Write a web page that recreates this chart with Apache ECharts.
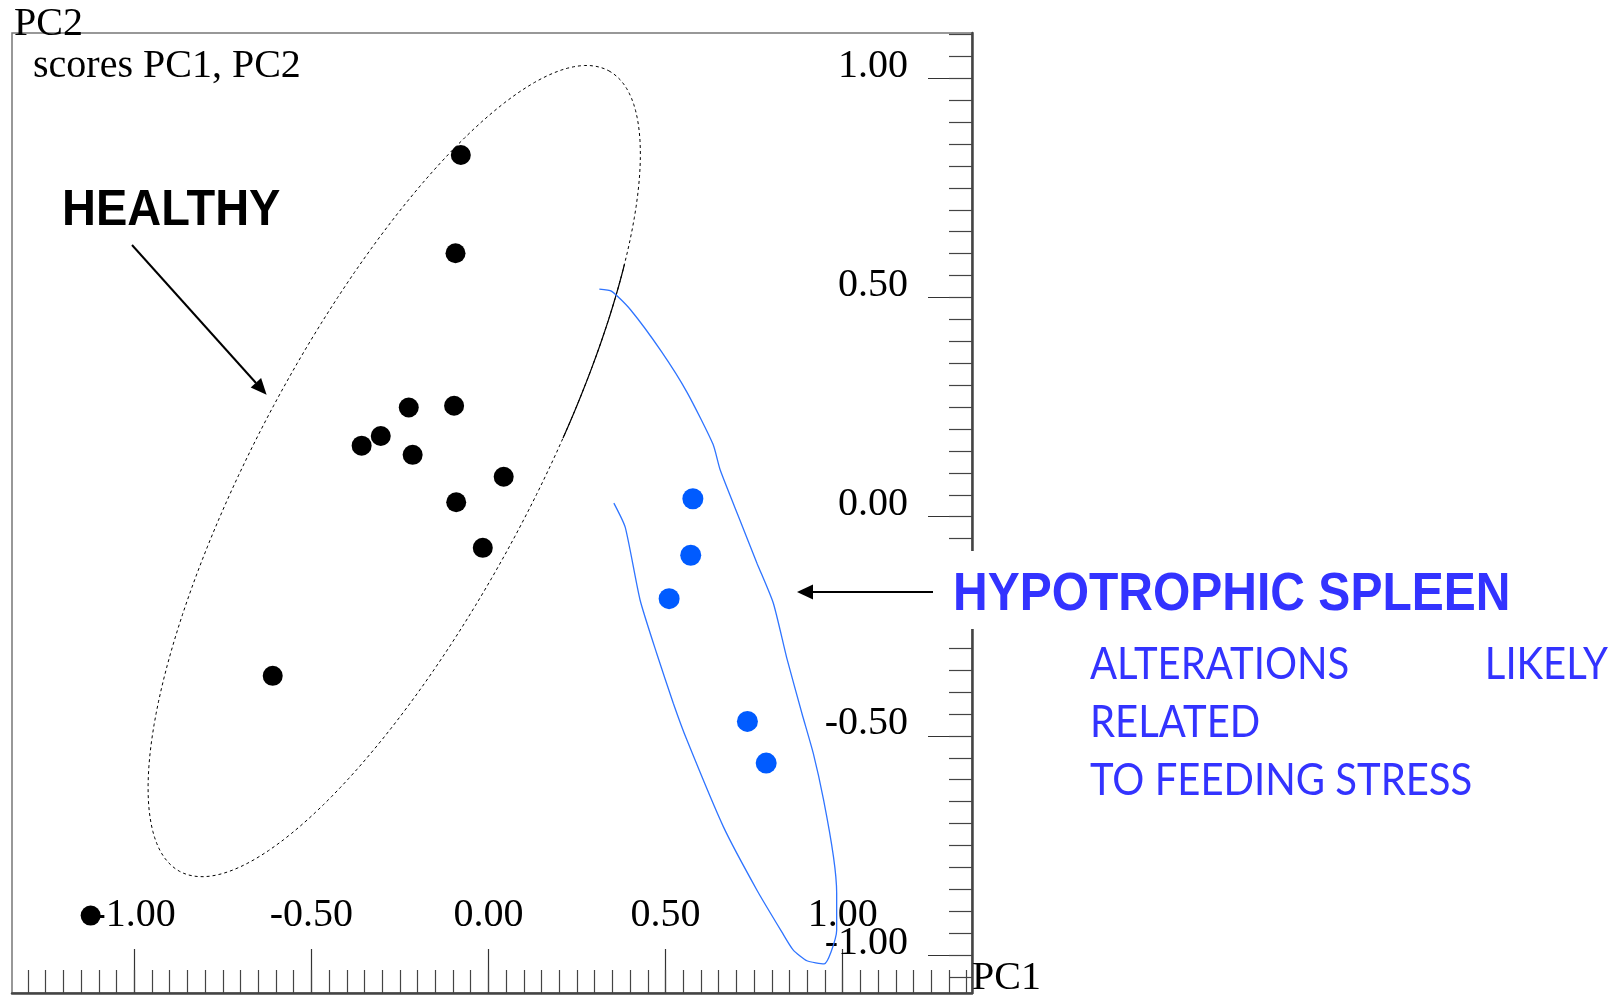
<!DOCTYPE html>
<html>
<head>
<meta charset="utf-8">
<style>
html,body{margin:0;padding:0;background:#fff;}
#chart{width:1620px;height:995px;}
</style>
<script src="https://cdn.jsdelivr.net/npm/echarts@6/dist/echarts.min.js"></script>
</head>
<body>
<div id="chart"></div>
<script>
// ---- data ----
const healthyPC1 = [-0.078, -0.093, -0.225, -0.097, -0.304, -0.358, -0.214, 0.043, -0.091, -0.016, -0.609, -1.123];
const healthyPC2 = [0.825, 0.601, 0.249, 0.253, 0.184, 0.162, 0.141, 0.091, 0.033, -0.071, -0.363, -0.910];
const hypoPC1 = [0.577, 0.571, 0.510, 0.731, 0.784];
const hypoPC2 = [0.041, -0.088, -0.187, -0.467, -0.562];

// hand-drawn outline round the hypotrophic group (PC1, PC2 units)
const outlinePC1 = [0.313, 0.348, 0.401, 0.488, 0.561, 0.634, 0.654, 0.710, 0.758, 0.804, 0.842, 0.885, 0.917, 0.946, 0.974, 0.983, 0.983, 0.967, 0.948, 0.899, 0.860, 0.828, 0.758, 0.663, 0.560, 0.522, 0.475, 0.428, 0.386, 0.354];
const outlinePC2 = [0.519, 0.514, 0.472, 0.377, 0.283, 0.165, 0.107, -0.008, -0.106, -0.197, -0.322, -0.449, -0.540, -0.646, -0.776, -0.859, -0.943, -0.993, -1.020, -1.013, -0.988, -0.947, -0.852, -0.707, -0.509, -0.426, -0.312, -0.190, -0.024, 0.031];

// confidence ellipse of the healthy group: centre and two conjugate semi-axes (PC1, PC2 units)
const ellipseCentre = [-0.266, 0.104];
const ellipseAxisA = [0.606, 0.913];
const ellipseAxisB = [0.340, -0.150];
// part of the ellipse outline drawn solid instead of dashed (parameter angle, degrees)
const ellipseSolidArc = [50, 76];

// axes
const pc1Range = [-1.345, 1.365];
const pc2Range = [-1.0865, 1.1033];
const majorTicks = [-1.00, -0.50, 0.00, 0.50, 1.00];
const minorStep = 0.05;

function minorTicks(range) {
  const out = [];
  const start = Math.ceil(range[0] / minorStep - 1e-9);
  const end = Math.floor(range[1] / minorStep + 1e-9);
  for (let i = start; i <= end; i++) out.push(+(i * minorStep).toFixed(2));
  return out;
}

const chart = echarts.init(document.getElementById('chart'), null, {renderer: 'canvas'});

const serif = 'Liberation Serif';
const axisColor = '#444';

function axisPair(kind, range, position) {
  const isX = kind === 'x';
  const base = {
    type: 'value', min: range[0], max: range[1], position: position,
    splitLine: {show: false}, scale: false
  };
  const labelCommon = {
    show: true, inside: true, customValues: majorTicks,
    formatter: v => v.toFixed(2),
    fontFamily: serif, fontSize: 40, color: '#000'
  };
  const major = Object.assign({}, base, {
    axisLine: {show: true, onZero: false, lineStyle: {color: axisColor, width: 2.5}},
    axisTick: {show: true, inside: true, length: 44, customValues: majorTicks, lineStyle: {color: '#333', width: 1.2}},
    axisLabel: isX
      ? Object.assign({}, labelCommon, {margin: 58})
      : Object.assign({}, labelCommon, {margin: 64, verticalAlign: 'bottom', lineHeight: 24})
  });
  const minor = Object.assign({}, base, {
    axisLine: {show: false, onZero: false},
    axisTick: {show: true, inside: true, length: 23, customValues: minorTicks(range), lineStyle: {color: '#444', width: 1.2}},
    axisLabel: {show: false}
  });
  return [major, minor];
}

function ellipsePoint(t) {
  const c = Math.cos(t), s = Math.sin(t);
  return [
    ellipseCentre[0] + ellipseAxisA[0] * c + ellipseAxisB[0] * s,
    ellipseCentre[1] + ellipseAxisA[1] * c + ellipseAxisB[1] * s
  ];
}

const option = {
  animation: false,
  backgroundColor: '#fff',
  grid: {left: 12, top: 33, width: 960, height: 960, show: true, borderColor: '#777', borderWidth: 1.5, backgroundColor: 'transparent'},
  xAxis: axisPair('x', pc1Range, 'bottom'),
  yAxis: axisPair('y', pc2Range, 'right'),
  series: [
    {
      name: 'healthy ellipse', type: 'custom', xAxisIndex: 0, yAxisIndex: 0, z: 2,
      data: [ellipseCentre],
      renderItem: function (params, api) {
        const pts = [];
        const n = 180;
        for (let i = 0; i < n; i++) pts.push(api.coord(ellipsePoint(i / n * Math.PI * 2)));
        const solid = [];
        for (let d = ellipseSolidArc[0]; d <= ellipseSolidArc[1]; d += 1) solid.push(api.coord(ellipsePoint(d * Math.PI / 180)));
        return {
          type: 'group',
          children: [
            {type: 'polygon', shape: {points: pts}, style: {fill: null, stroke: '#000', lineWidth: 1, lineDash: [3, 3]}},
            {type: 'polyline', shape: {points: solid}, style: {fill: null, stroke: '#000', lineWidth: 1.2}}
          ]
        };
      }
    },
    {
      name: 'hypotrophic outline', type: 'line', xAxisIndex: 0, yAxisIndex: 0, z: 2,
      data: outlinePC1.map((x, i) => [x, outlinePC2[i]]),
      showSymbol: false, symbol: 'none', smooth: 0.2,
      lineStyle: {color: '#2f74ff', width: 1.3}
    },
    {
      name: 'Healthy', type: 'scatter', xAxisIndex: 0, yAxisIndex: 0, z: 5,
      data: healthyPC1.map((x, i) => [x, healthyPC2[i]]),
      symbol: 'circle', symbolSize: 20, itemStyle: {color: '#000', opacity: 1}
    },
    {
      name: 'Hypotrophic spleen', type: 'scatter', xAxisIndex: 0, yAxisIndex: 0, z: 5,
      data: hypoPC1.map((x, i) => [x, hypoPC2[i]]),
      symbol: 'circle', symbolSize: 21, itemStyle: {color: '#005bff', opacity: 1}
    }
  ],
  graphic: [
    {type: 'rect', z: 50, shape: {x: 938, y: 551, width: 640, height: 78}, style: {fill: '#fff'}},
    {type: 'text', z: 60, style: {text: 'PC2', x: 14, y: 24, font: '40px "Liberation Serif"', fill: '#000', textVerticalAlign: 'middle'}},
    {type: 'text', z: 60, style: {text: 'scores PC1, PC2', x: 33, y: 66, font: '40px "Liberation Serif"', fill: '#000', textVerticalAlign: 'middle'}},
    {type: 'text', z: 60, style: {text: 'PC1', x: 972, y: 978, font: '40px "Liberation Serif"', fill: '#000', textVerticalAlign: 'middle'}},
    {type: 'text', z: 60, x: 62, y: 211, scaleY: 1.08, style: {text: 'HEALTHY', x: 0, y: 0, font: 'bold 47px "Liberation Sans"', fill: '#000', textVerticalAlign: 'middle'}},
    {type: 'text', z: 60, x: 953, y: 595, scaleY: 1.1, style: {text: 'HYPOTROPHIC SPLEEN', x: 0, y: 0, font: 'bold 48px "Liberation Sans"', fill: '#3333ff', textVerticalAlign: 'middle'}},
    {type: 'text', z: 60, x: 1090, y: 665, scaleX: 0.91, style: {text: 'ALTERATIONS', x: 0, y: 0, font: '44px Lato', fill: '#3333ff', textVerticalAlign: 'middle'}},
    {type: 'text', z: 60, x: 1608, y: 665, scaleX: 0.91, style: {text: 'LIKELY', x: 0, y: 0, font: '44px Lato', fill: '#3333ff', textVerticalAlign: 'middle', textAlign: 'right'}},
    {type: 'text', z: 60, x: 1090, y: 723, scaleX: 0.91, style: {text: 'RELATED', x: 0, y: 0, font: '44px Lato', fill: '#3333ff', textVerticalAlign: 'middle'}},
    {type: 'text', z: 60, x: 1090, y: 781, scaleX: 0.91, style: {text: 'TO FEEDING STRESS', x: 0, y: 0, font: '44px Lato', fill: '#3333ff', textVerticalAlign: 'middle'}},
    // arrows
    {type: 'line', z: 60, shape: {x1: 132, y1: 245, x2: 256, y2: 383}, style: {stroke: '#000', lineWidth: 2}},
    {type: 'polygon', z: 60, shape: {points: [[266.6, 394.7], [250.7, 387.5], [261.1, 378.1]]}, style: {fill: '#000'}},
    {type: 'line', z: 60, shape: {x1: 933, y1: 592, x2: 812, y2: 592}, style: {stroke: '#000', lineWidth: 2.2}},
    {type: 'polygon', z: 60, shape: {points: [[797, 592], [813, 584.5], [813, 599.5]]}, style: {fill: '#000'}}
  ]
};
chart.setOption(option);
</script>
</body>
</html>
